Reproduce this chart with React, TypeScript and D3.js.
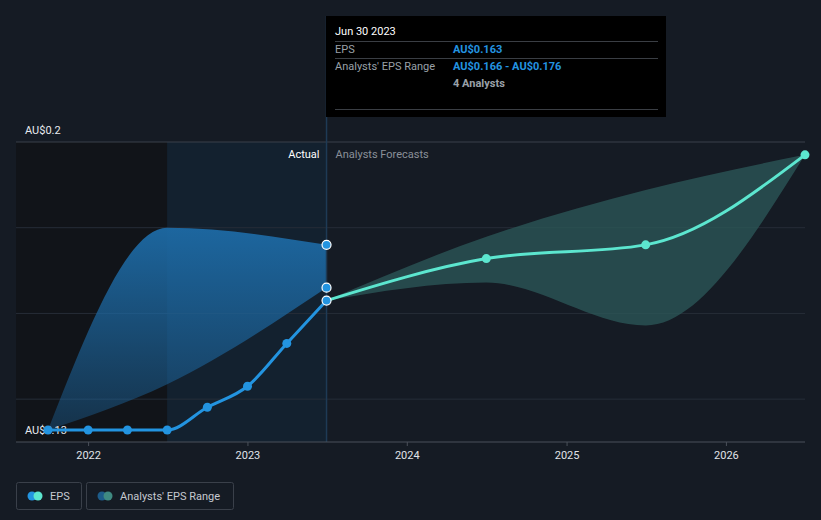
import React from "react";
import * as d3 from "d3";

const W = 821;
const H = 520;

// Actual EPS (quarterly, trailing)
const epsDates = ["2021-09-30", "2021-12-31", "2022-03-31", "2022-06-30", "2022-09-30", "2022-12-31", "2023-03-31", "2023-06-30"];
const epsValues = [0.1328, 0.1328, 0.1328, 0.1328, 0.1381, 0.1430, 0.1530, 0.163];

// Past analysts' range
const pastRangeDates = ["2021-09-30", "2022-06-30", "2023-06-30"];
const pastRangeLow = [0.1328, 0.1435, 0.166];
const pastRangeHigh = [0.1328, 0.18, 0.176];

// Forecast
const fcDates = ["2023-06-30", "2024-06-30", "2025-06-30", "2026-06-30"];
const fcValues = [0.163, 0.1728, 0.176, 0.197];
const fcLow = [0.163, 0.1672, 0.1572, 0.197];
const fcHigh = [0.163, 0.1779, 0.1888, 0.197];

const yTicks = [0.13, 0.14, 0.16, 0.18, 0.2];
const xTickYears = [2022, 2023, 2024, 2025, 2026];

const parse = d3.timeParse("%Y-%m-%d");

export default function App() {
  const left = 16, right = 805, top = 142, bottom = 442;
  const x = d3.scaleTime()
    .domain([parse("2021-09-30")!, parse("2026-06-30")!])
    .range([48, 805]);
  const y = d3.scaleLinear().domain([0.13, 0.2]).range([bottom, top]);

  const pts = (dates: string[], vals: number[]) => dates.map((d, i) => [x(parse(d)!), y(vals[i])] as [number, number]);
  const line = d3.line<[number, number]>().curve(d3.curveMonotoneX);
  const area = d3.area<{ x: number; y0: number; y1: number }>()
    .x(d => d.x).y0(d => d.y0).y1(d => d.y1).curve(d3.curveMonotoneX);

  const pastBand = pastRangeDates.map((d, i) => ({ x: x(parse(d)!), y0: y(pastRangeLow[i]), y1: y(pastRangeHigh[i]) }));
  const fcBand = fcDates.map((d, i) => ({ x: x(parse(d)!), y0: y(fcLow[i]), y1: y(fcHigh[i]) }));
  const epsPts = pts(epsDates, epsValues);
  const fcPts = pts(fcDates, fcValues);

  const xSplit = x(parse("2023-06-30")!);
  const xShade = x(parse("2022-06-30")!);

  const font = "Roboto, 'Open Sans', sans-serif";

  return (
    <div style={{ position: "fixed", left: 0, top: 0, width: W, height: H }}>
      <svg width={W} height={H} style={{ display: "block", background: "#151b24", fontFamily: font }}>
        <defs>
          <linearGradient id="pastGrad" x1="0" y1="0" x2="0" y2="1">
            <stop offset="0%" stopColor="#1d6aa5" stopOpacity={0.95} />
            <stop offset="100%" stopColor="#1d6aa5" stopOpacity={0.35} />
          </linearGradient>
        </defs>
        {/* shaded regions */}
        <rect x={left} y={top} width={xShade - left} height={bottom - top} fill="#111419" />
        <rect x={xShade} y={top} width={xSplit - xShade} height={bottom - top} fill="#13212f" />
        {/* grid */}
        {yTicks.slice(1).map(t => (
          <line key={t} x1={left} x2={right} y1={y(t)} y2={y(t)} stroke={t === 0.2 ? "#3a404a" : "#262d38"} strokeWidth={1} />
        ))}
        {/* past band */}
        <path d={area(pastBand) || ""} fill="url(#pastGrad)" />
        {/* forecast band */}
        <path d={area(fcBand) || ""} fill="#2c5a5a" fillOpacity={0.75} />
        {/* vertical divider */}
        <line x1={xSplit} x2={xSplit} y1={16} y2={bottom} stroke="#1e3a55" strokeWidth={1.5} />
        {/* axis */}
        <line x1={left} x2={right} y1={bottom} y2={bottom} stroke="#4a505a" strokeWidth={1} />
        {xTickYears.map(yr => {
          const xx = x(new Date(yr, 0, 1));
          return (
            <g key={yr}>
              <line x1={xx} x2={xx} y1={bottom} y2={bottom + 4} stroke="#4a505a" />
              <text x={xx} y={bottom + 17} fill="#e0e3e8" fontSize={11} textAnchor="middle">{yr}</text>
            </g>
          );
        })}
        {/* y labels */}
        <text x={25} y={134} fill="#e8eaee" fontSize={11}>AU$0.2</text>
        <text x={25} y={434} fill="#e8eaee" fontSize={11}>AU$0.13</text>
        {/* region labels */}
        <text x={xSplit - 7} y={158} fill="#ffffff" fontSize={11} textAnchor="end">Actual</text>
        <text x={xSplit + 9} y={158} fill="#8a9099" fontSize={11}>Analysts Forecasts</text>
        {/* lines */}
        <path d={line(fcPts) || ""} fill="none" stroke="#5ce6cf" strokeWidth={3} />
        <path d={line(epsPts) || ""} fill="none" stroke="#2394e0" strokeWidth={3} />
        {epsPts.slice(0, -1).map((p, i) => (
          <circle key={i} cx={p[0]} cy={p[1]} r={4.5} fill="#2394e0" />
        ))}
        {fcPts.slice(1).map((p, i) => (
          <circle key={i} cx={p[0]} cy={p[1]} r={4.5} fill="#5ce6cf" />
        ))}
        {/* highlighted points */}
        {[y(pastRangeHigh[2]), y(pastRangeLow[2]), y(epsValues[7])].map((yy, i) => (
          <circle key={i} cx={xSplit} cy={yy} r={4.5} fill="#2394e0" stroke="#ffffff" strokeWidth={1.2} />
        ))}
        {/* tooltip */}
        <g>
          <rect x={326} y={16} width={340} height={101} fill="#000000" />
          <text x={335} y={35} fill="#ffffff" fontSize={11}>Jun 30 2023</text>
          <line x1={335} x2={658} y1={41.5} y2={41.5} stroke="#3a3e44" />
          <text x={335} y={53} fill="#9aa0a8" fontSize={11}>EPS</text>
          <text x={453} y={53} fill="#2394e0" fontSize={11} fontWeight="bold">AU$0.163</text>
          <line x1={335} x2={658} y1={58.5} y2={58.5} stroke="#3a3e44" />
          <text x={335} y={70} fill="#9aa0a8" fontSize={11}>Analysts' EPS Range</text>
          <text x={453} y={70} fill="#2394e0" fontSize={11} fontWeight="bold">AU$0.166 - AU$0.176</text>
          <text x={453} y={87} fill="#9aa0a8" fontSize={11} fontWeight="bold">4 Analysts</text>
          <line x1={335} x2={658} y1={109.5} y2={109.5} stroke="#3a3e44" />
        </g>
        {/* legend */}
        <g>
          <rect x={16.5} y={482.5} width={65} height={27} rx={2} fill="none" stroke="#3a404a" />
          <circle cx={32} cy={496} r={4.5} fill="#2394e0" />
          <circle cx={38} cy={496} r={4.5} fill="#5ce6cf" />
          <text x={50} y={500} fill="#c5c9d0" fontSize={11}>EPS</text>
          <rect x={86.5} y={482.5} width={147} height={27} rx={2} fill="none" stroke="#3a404a" />
          <circle cx={102} cy={496} r={4.5} fill="#1d5c8a" />
          <circle cx={108} cy={496} r={4.5} fill="#3f8a82" />
          <text x={120} y={500} fill="#c5c9d0" fontSize={11}>Analysts' EPS Range</text>
        </g>
      </svg>
    </div>
  );
}
